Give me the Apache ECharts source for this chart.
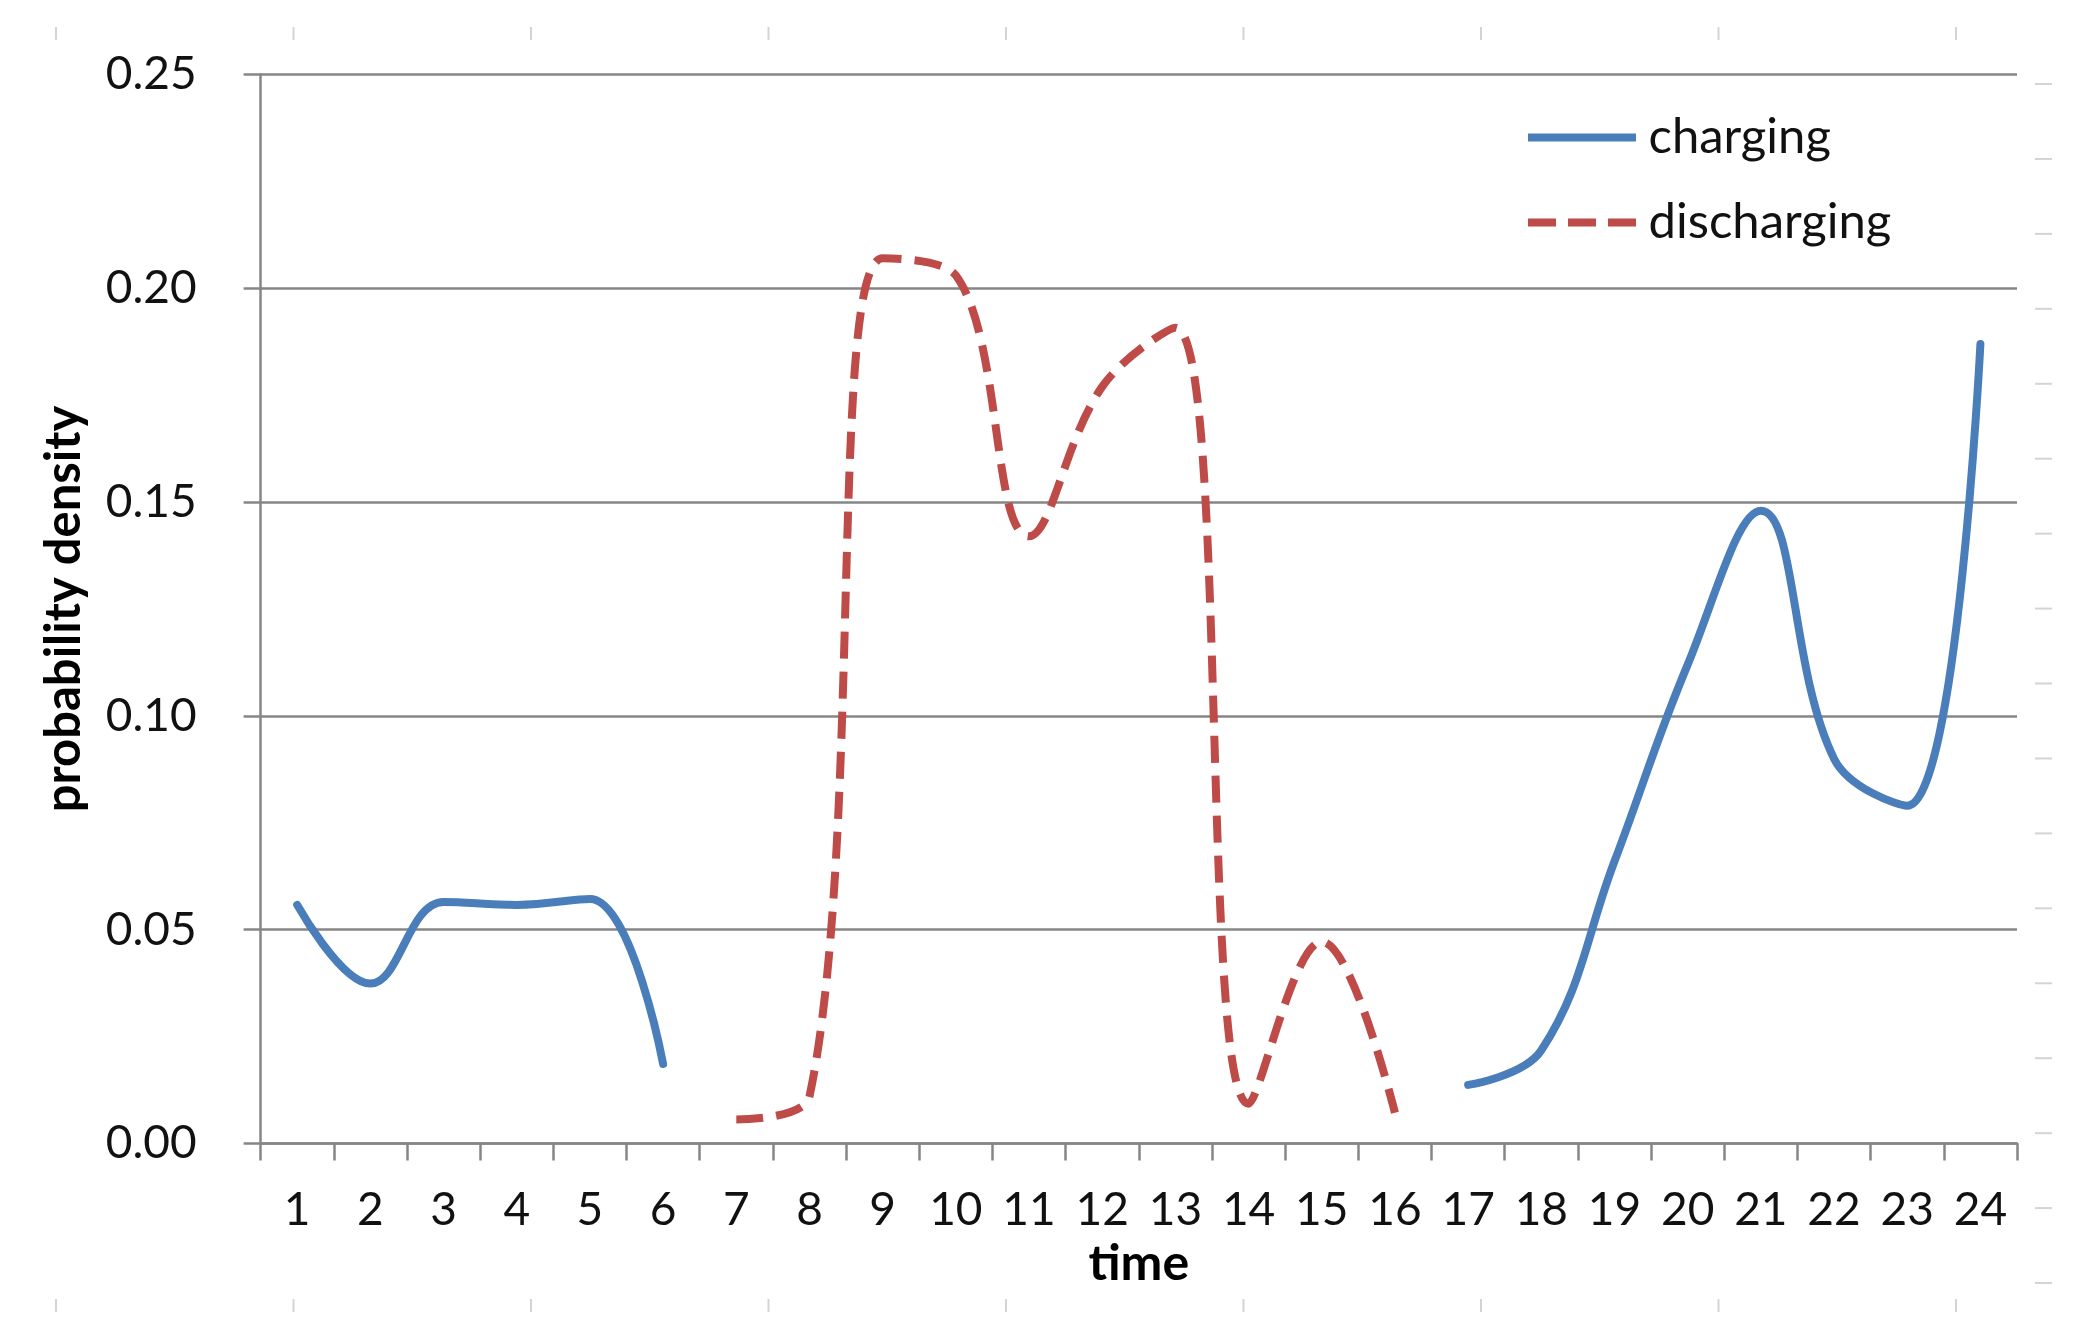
<!DOCTYPE html>
<html>
<head>
<meta charset="utf-8">
<script src="https://cdn.jsdelivr.net/npm/echarts@6/dist/echarts.min.js"></script>
<style>
html,body{margin:0;padding:0;background:#fff;}
#chart{width:2085px;height:1335px;}
</style>
</head>
<body>
<div id="chart"></div>
<script>
const categories = ['1','2','3','4','5','6','7','8','9','10','11','12','13','14','15','16','17','18','19','20','21','22','23','24'];
const charging = [0.0558, 0.0374, 0.0565, 0.0558, 0.0572, 0.0186, null, null, null, null, null, null, null, null, null, null, 0.0137, 0.0218, 0.0660, 0.1120, 0.1480, 0.0900, 0.0790, 0.1870];
const discharging = [null, null, null, null, null, null, 0.0056, 0.0110, 0.2070, 0.2030, 0.1420, 0.1770, 0.1908, 0.0093, 0.0472, 0.0072, null, null, null, null, null, null, null, null];
const yTicks = {min: 0, max: 0.25, step: 0.05};
const seriesNames = ['charging', 'discharging'];

const FONT = 'Lato';
const GRAY = '#868686';
const BLUE = '#4A7EBB';
const RED = '#BE4B48';
const chart = echarts.init(document.getElementById('chart'), null, {renderer: 'canvas'});

// faint spreadsheet cell marks around the chart (decoration)
const deco = [];
const colX = [56, 293.5, 531, 768.5, 1006, 1243.5, 1481, 1718.5, 1956];
colX.forEach(x => {
  deco.push({type: 'line', shape: {x1: x, y1: 27, x2: x, y2: 40}, style: {stroke: '#d4d4d4', lineWidth: 2}, silent: true});
  deco.push({type: 'line', shape: {x1: x, y1: 1299, x2: x, y2: 1312}, style: {stroke: '#d4d4d4', lineWidth: 2}, silent: true});
});
for (let k = 0; k <= 16; k++) {
  const y = 84 + 74.94 * k;
  deco.push({type: 'line', shape: {x1: 2035, y1: y, x2: 2052, y2: y}, style: {stroke: '#d4d4d4', lineWidth: 2}, silent: true});
}

chart.setOption({
  animation: false,
  backgroundColor: '#fff',
  textStyle: {fontFamily: FONT},
  graphic: deco,
  grid: {left: 260.6, right: 68, top: 74.5, bottom: 191.5, containLabel: false},
  legend: {
    orient: 'vertical',
    left: 1523,
    top: 108,
    itemWidth: 115,
    itemHeight: 8,
    itemGap: 36,
    data: [
      {name: seriesNames[0], icon: 'path://M0,0H108V8H0Z'},
      {name: seriesNames[1], icon: 'path://M0,0H28V8H0Z M40,0H68V8H40Z M80,0H108V8H80Z'}
    ],
    itemStyle: {borderWidth: 0},
    lineStyle: {width: 0},
    textStyle: {fontSize: 49, color: '#111', fontFamily: FONT, padding: [0, 0, 0, 4]}
  },
  xAxis: {
    type: 'category',
    data: categories,
    boundaryGap: true,
    name: 'time',
    nameLocation: 'middle',
    nameGap: 86,
    nameTextStyle: {fontSize: 50, fontWeight: 'bold', color: '#000', fontFamily: FONT},
    axisLine: {show: true, lineStyle: {color: GRAY, width: 2.5}},
    axisTick: {show: true, alignWithLabel: false, length: 17, lineStyle: {color: GRAY, width: 2.5}},
    axisLabel: {interval: 0, fontSize: 46, color: '#111', margin: 44, fontFamily: FONT},
    splitLine: {show: false}
  },
  yAxis: {
    type: 'value',
    min: yTicks.min,
    max: yTicks.max,
    interval: yTicks.step,
    name: 'probability density',
    nameLocation: 'middle',
    nameGap: 172,
    nameRotate: 90,
    nameTextStyle: {fontSize: 49, fontWeight: 'bold', color: '#000', fontFamily: FONT},
    axisLine: {show: true, lineStyle: {color: GRAY, width: 2.5}},
    axisTick: {show: true, length: 17, lineStyle: {color: GRAY, width: 2.5}},
    axisLabel: {fontSize: 46, color: '#111', margin: 64, fontFamily: FONT, formatter: v => v.toFixed(2)},
    splitLine: {show: true, lineStyle: {color: GRAY, width: 2.5}}
  },
  series: [
    {
      name: seriesNames[0],
      type: 'line',
      data: charging,
      smooth: 0.4,
      symbol: 'none',
      connectNulls: false,
      color: BLUE,
      itemStyle: {color: BLUE},
      lineStyle: {color: BLUE, width: 8, cap: 'round', join: 'round'}
    },
    {
      name: seriesNames[1],
      type: 'line',
      data: discharging,
      smooth: 0.4,
      symbol: 'none',
      connectNulls: false,
      color: RED,
      itemStyle: {color: RED},
      lineStyle: {color: RED, width: 8, type: [27, 13], cap: 'butt', join: 'round'}
    }
  ]
});
</script>
</body>
</html>
